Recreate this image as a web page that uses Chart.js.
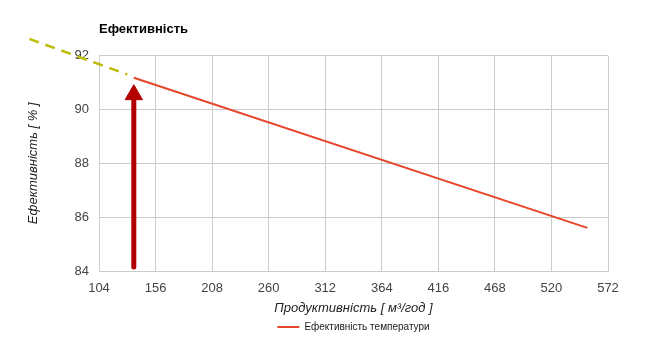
<!DOCTYPE html>
<html>
<head>
<meta charset="utf-8">
<script src="https://cdn.jsdelivr.net/npm/chart.js@4"></script>
<style>
  html, body { margin: 0; padding: 0; background: #fff; }
  #wrap { width: 649px; height: 351px; }
</style>
</head>
<body>
<div id="wrap"><canvas id="chart" width="649" height="351"></canvas></div>
<script>
// Дані графіка
const xTicks = [104, 156, 208, 260, 312, 364, 416, 468, 520, 572];
const yTicks = [84, 86, 88, 90, 92];

// Лінія ефективності (точки кінців)
const effX = [136, 553];
const effY = [91.18, 85.6];

// Пунктирна екстраполяція
const dashX = [40, 130];
const dashY = [92.62, 91.3];

// Стрілка (низ, центр наконечника)
const arrowX = [136, 136];
const arrowY = [84.15, 90.55];

const toPoints = (xs, ys) => xs.map((x, i) => ({ x: x, y: ys[i] }));

const FONT = "Arial, 'Liberation Sans', sans-serif";

new Chart(document.getElementById("chart"), {
  type: "line",
  data: {
    datasets: [
      {
        label: "Ефективність температури",
        data: toPoints(effX, effY),
        borderColor: "#e6462b",
        backgroundColor: "#e6462b",
        borderWidth: 2,
        pointRadius: 0,
        pointStyle: "line",
        tension: 0
      },
      {
        label: "dash",
        data: toPoints(dashX, dashY),
        borderColor: "#bcbc00",
        borderWidth: 2.5,
        borderDash: [10, 7],
        pointRadius: 0,
        clip: false
      },
      {
        label: "arrow",
        data: toPoints(arrowX, arrowY),
        borderColor: "#b20000",
        backgroundColor: "#b20000",
        borderWidth: 5,
        borderCapStyle: "round",
        pointStyle: "triangle",
        pointRadius: [0, 10],
        pointBorderWidth: 1,
        pointHoverRadius: 0,
        clip: false
      }
    ]
  },
  options: {
    responsive: false,
    animation: false,
    events: [],
    layout: { padding: { left: 0, right: 41, top: 0, bottom: 9 } },
    plugins: {
      title: {
        display: true,
        text: "Ефективність",
        align: "start",
        fullSize: false,
        color: "#000",
        font: { family: FONT, size: 13, weight: "bold" },
        padding: { top: 22, bottom: 18 }
      },
      legend: {
        position: "bottom",
        fullSize: false,
        labels: {
          filter: (item) => item.datasetIndex === 0,
          usePointStyle: true,
          pointStyle: "line",
          pointStyleWidth: 22,
          boxHeight: 10,
          color: "#222",
          font: { family: FONT, size: 10 },
          padding: 2
        }
      },
      tooltip: { enabled: false }
    },
    scales: {
      x: {
        type: "linear",
        min: xTicks[0],
        max: xTicks[xTicks.length - 1],
        afterBuildTicks: (s) => { s.ticks = xTicks.map((v) => ({ value: v })); },
        afterFit: (s) => { s.height = 49; },
        ticks: { color: "#444", font: { family: FONT, size: 13 }, padding: 10, maxRotation: 0, autoSkip: false },
        grid: { color: "#ccc", drawTicks: false },
        border: { color: "#ccc" },
        title: {
          display: true,
          text: "Продуктивність [ м³/год ]",
          color: "#222",
          font: { family: FONT, size: 13, style: "italic" },
          padding: { top: 4, bottom: 4 }
        }
      },
      y: {
        type: "linear",
        min: yTicks[0],
        max: yTicks[yTicks.length - 1],
        afterBuildTicks: (s) => { s.ticks = yTicks.map((v) => ({ value: v })); },
        afterFit: (s) => { s.width = 99; },
        ticks: { color: "#444", font: { family: FONT, size: 13 }, padding: 10 },
        grid: { color: "#ccc", drawTicks: false },
        border: { color: "#ccc" },
        title: {
          display: true,
          text: "Ефективність [ % ]",
          color: "#222",
          font: { family: FONT, size: 13, style: "italic" },
          padding: { top: 26, bottom: 4 }
        }
      }
    }
  }
});
</script>
</body>
</html>
